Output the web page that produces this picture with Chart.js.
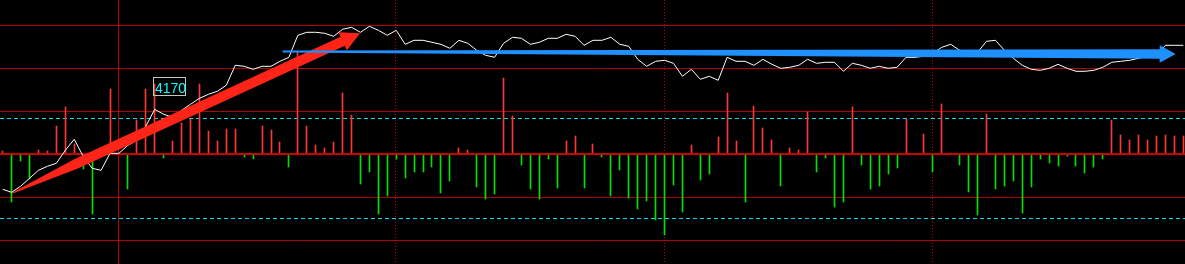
<!DOCTYPE html>
<html>
<head>
<meta charset="utf-8">
<script src="https://cdn.jsdelivr.net/npm/chart.js@4/dist/chart.umd.min.js"></script>
<style>
    html, body { margin: 0; padding: 0; background: #000; overflow: hidden; }
</style>
</head>
<body>
<canvas id="chart" width="1185" height="264"></canvas>
<script>
// price line, one value per bar slot
const prices = [
    4090, 4087, 4093, 4101, 4109, 4113, 4116, 4129, 4140, 4123,
    4111, 4109, 4126, 4126, 4134, 4139, 4153, 4170, 4165, 4162,
    4169, 4175, 4181, 4185, 4188, 4194, 4214, 4213, 4210, 4213,
    4213, 4218, 4222, 4244, 4247, 4247, 4246, 4243, 4250, 4252,
    4247, 4253, 4249, 4244, 4249, 4235, 4239, 4239, 4237, 4235,
    4231, 4239, 4236, 4229, 4224, 4222, 4236, 4242, 4241, 4235,
    4237, 4241, 4241, 4245, 4243, 4234, 4239, 4239, 4242, 4235,
    4233, 4220, 4213, 4218, 4219, 4216, 4203, 4210, 4200, 4203,
    4199, 4222, 4218, 4218, 4214, 4220, 4215, 4211, 4212, 4214,
    4220, 4216, 4217, 4217, 4208, 4216, 4214, 4211, 4213, 4211,
    4212, 4222, 4222, 4223, 4226, 4232, 4235, 4229, 4227, 4227,
    4238, 4239, 4229, 4221, 4214, 4210, 4209, 4211, 4215, 4211,
    4208, 4208, 4209, 4212, 4217, 4218, 4219, 4221, 4223, 4224,
    4234, 4234, 4234
];

// up / down bars around the zero line
const flows = [
    3, -48, -7, -25, 4, 3, 28, 47, 10, -15,
    -60, 6, 65, 0, -35, 34, 65, 70, -4, 13,
    31, 35, 70, 23, 13, 25, 25, -3, -5, 28,
    24, 12, -13, 102, 28, 9, 6, 12, 61, 39,
    -30, -18, -60, -42, -5, -24, -18, -18, -13, -39,
    -27, 6, 4, -33, -45, -40, 76, 38, -11, -35,
    -45, -5, -34, 13, 18, -34, 10, -3, -42, -16,
    -44, -55, -47, -66, -81, -31, -58, 9, -26, -20,
    17, 61, 13, -48, 48, 26, 14, -32, 6, 4,
    42, -18, -4, -53, -48, 47, -11, -35, -32, -20,
    -14, 35, 0, 20, -18, 50, 1, -11, -38, -61,
    40, -35, -32, -27, -59, -33, -5, -9, -12, -2,
    -12, -19, -13, -5, 34, 19, 14, 19, 14, 18,
    19, 18, 18
];

const flowGrid = [128.5, 85.5, 42.5, -43.5, -86.5];
const flowBands = [35.5, -64.5];
const dividers = [12.95, 43.9, 74, 104];   // first one is the solid session line
const markIndex = 17;
const markText = '4170';
const redArrow = [[1.12, 4086.3], [39.95, 4246]];
const blueArrow = [[31.3, 4227.8], [131.15, 4225.3]];

const upColor = '#ff3636';
const downColor = '#00e000';

// tapered arrow: pointed start, widens over `taper` px, then a triangular head
function drawArrow(ctx, x0, y0, x1, y1, opts) {
    const {w0, w1, taper, headLen, headHalf, color} = opts;
    const len = Math.hypot(x1 - x0, y1 - y0);
    const dx = (x1 - x0) / len, dy = (y1 - y0) / len;
    const nx = -dy, ny = dx;
    const bx = x1 - dx * headLen, by = y1 - dy * headLen;
    const t = Math.min(taper, len - headLen);
    const px = x0 + dx * t, py = y0 + dy * t;
    ctx.beginPath();
    ctx.moveTo(x0 + nx * w0, y0 + ny * w0);
    ctx.lineTo(px + nx * w1, py + ny * w1);
    ctx.lineTo(bx + nx * w1, by + ny * w1);
    ctx.lineTo(bx + nx * headHalf, by + ny * headHalf);
    ctx.lineTo(x1, y1);
    ctx.lineTo(bx - nx * headHalf, by - ny * headHalf);
    ctx.lineTo(bx - nx * w1, by - ny * w1);
    ctx.lineTo(px - nx * w1, py - ny * w1);
    ctx.lineTo(x0 - nx * w0, y0 - ny * w0);
    ctx.closePath();
    ctx.fillStyle = color;
    ctx.fill();
}

function hLine(ctx, area, y) {
    ctx.beginPath();
    ctx.moveTo(area.left, y);
    ctx.lineTo(area.right, y);
    ctx.stroke();
}

const overlay = {
    id: 'overlay',
    beforeDraw(chart) {
        const ctx = chart.ctx;
        ctx.save();
        ctx.fillStyle = '#000';
        ctx.fillRect(0, 0, chart.width, chart.height);
        ctx.restore();
    },
    beforeDatasetsDraw(chart) {
        const {ctx, chartArea: area, scales: {x, v}} = chart;
        chart.getDatasetMeta(0).data.forEach(el => { el.x = Math.floor(el.x) + 0.5; });
        ctx.save();
        ctx.lineWidth = 1;
        ctx.strokeStyle = '#b40000';
        flowGrid.forEach(val => hLine(ctx, area, Math.floor(v.getPixelForValue(val)) + 0.5));
        ctx.strokeStyle = '#00e4f0';
        ctx.setLineDash([4, 3]);
        flowBands.forEach(val => hLine(ctx, area, Math.floor(v.getPixelForValue(val)) + 0.5));
        ctx.strokeStyle = '#c00000';
        dividers.forEach((d, i) => {
            const px = Math.floor(x.getPixelForValue(d)) + 0.5;
            ctx.setLineDash(i === 0 ? [] : [1, 2]);
            ctx.beginPath();
            ctx.moveTo(px, area.top);
            ctx.lineTo(px, area.bottom);
            ctx.stroke();
        });
        ctx.restore();
    },
    afterDatasetDraw(chart, args) {
        if (args.meta.type !== 'bar') return;
        const {ctx, chartArea: area, scales: {v}} = chart;
        ctx.save();
        ctx.lineWidth = 2;
        ctx.strokeStyle = '#c80000';
        hLine(ctx, area, v.getPixelForValue(0));
        ctx.restore();
    },
    afterDatasetsDraw(chart) {
        const {ctx, scales: {x, p}} = chart;
        ctx.save();
        // marked point label
        const mx = Math.floor(x.getPixelForValue(markIndex));
        const my = Math.floor(p.getPixelForValue(prices[markIndex]));
        ctx.strokeStyle = '#c4c4c4';
        ctx.lineWidth = 1;
        ctx.strokeRect(mx - 1 + 0.5, my - 32 + 0.5, 32, 18);
        ctx.fillStyle = '#00ffff';
        ctx.font = '14px "Liberation Sans", Arial, sans-serif';
        ctx.textBaseline = 'alphabetic';
        ctx.fillText(markText, mx + 1, my - 16);
        // hand drawn arrows
        drawArrow(ctx,
            x.getPixelForValue(redArrow[0][0]), p.getPixelForValue(redArrow[0][1]),
            x.getPixelForValue(redArrow[1][0]), p.getPixelForValue(redArrow[1][1]),
            {w0: 0.5, w1: 5, taper: 70, headLen: 19, headHalf: 10, color: '#ff2418'});
        drawArrow(ctx,
            x.getPixelForValue(blueArrow[0][0]), p.getPixelForValue(blueArrow[0][1]),
            x.getPixelForValue(blueArrow[1][0]), p.getPixelForValue(blueArrow[1][1]),
            {w0: 1, w1: 4.8, taper: 880, headLen: 16, headHalf: 8.7, color: '#1e90ff'});
        ctx.restore();
    }
};

new Chart(document.getElementById('chart'), {
    data: {
        datasets: [
            {
                type: 'bar',
                data: flows.map((val, i) => ({x: i, y: val})),
                yAxisID: 'v',
                backgroundColor: flows.map(val => val >= 0 ? upColor : downColor),
                barThickness: 1,
                order: 2
            },
            {
                type: 'line',
                data: prices.map((val, i) => ({x: i, y: val})),
                yAxisID: 'p',
                borderColor: '#ffffff',
                borderWidth: 1,
                pointRadius: 0,
                tension: 0,
                order: 1
            }
        ]
    },
    options: {
        responsive: false,
        animation: false,
        devicePixelRatio: 1,
        layout: {padding: 0},
        scales: {
            x: {type: 'linear', offset: false, min: -0.3, max: 132.19, display: false},
            v: {type: 'linear', min: -110, max: 154, display: false},
            p: {type: 'linear', min: 4015.3, max: 4279.3, display: false}
        },
        plugins: {legend: {display: false}, tooltip: {enabled: false}}
    },
    plugins: [overlay]
});
</script>
</body>
</html>
